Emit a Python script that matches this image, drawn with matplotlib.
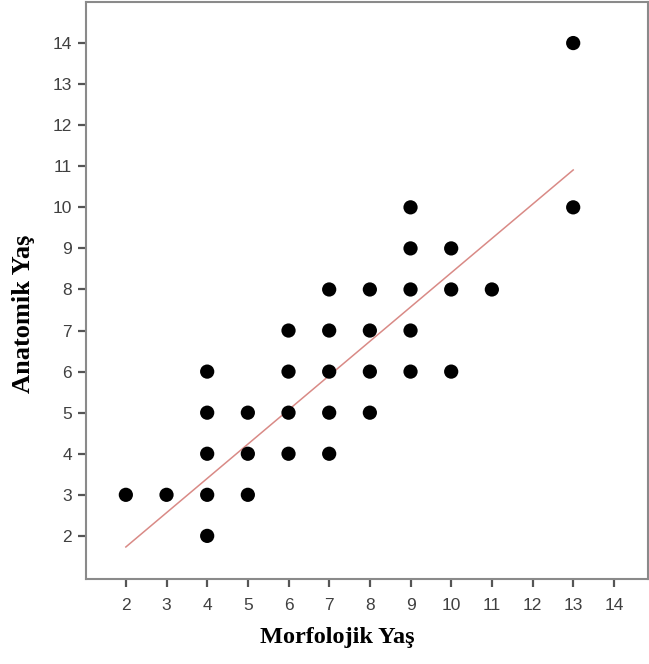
import matplotlib
matplotlib.use('Agg')
import matplotlib.pyplot as plt
import numpy as np

# Morfolojik yas (x) and anatomik yas (y) pairs
morf = [2, 3, 4, 4, 4, 4, 4, 5, 5, 5, 6, 6, 6, 6, 7, 7, 7, 7, 7,
        8, 8, 8, 8, 9, 9, 9, 9, 9, 10, 10, 10, 11, 13, 13]
anat = [3, 3, 2, 3, 4, 5, 6, 3, 4, 5, 4, 5, 6, 7, 4, 5, 6, 7, 8,
        5, 6, 7, 8, 6, 7, 8, 9, 10, 6, 8, 9, 8, 10, 14]
fit_x = [2, 13]        # fit line ends
fit_y = [1.73, 10.91]
ticks = list(range(2, 15))

fig = plt.figure(figsize=(6.49, 6.64), dpi=100)
ax = fig.add_axes([0.1325, 0.128, 0.866, 0.869])

ax.plot(fit_x, fit_y, color='#d98a86', linewidth=1.1, zorder=2)
ax.scatter(morf, anat, s=105, color='black', edgecolors='none', zorder=3)

ax.set_xlim(1.02, 14.84)
ax.set_ylim(0.95, 15.0)
ax.set_xticks(ticks)
ax.set_yticks(ticks)
ax.set_xticklabels([str(t) for t in ticks], family='Liberation Sans')
ax.set_yticklabels([str(t) for t in ticks], family='Liberation Sans')
ax.tick_params(axis='both', colors='#555555', labelcolor='#404040', labelsize=12.5,
               length=6, width=1.6, direction='out')
ax.tick_params(axis='x', pad=8)
ax.tick_params(axis='y', pad=4)
for s in ax.spines.values():
    s.set_color('#8a8a8a')
    s.set_linewidth(1.5)

ax.set_xlabel('Morfolojik Yaş', family='Liberation Serif', fontweight='bold', fontsize=17.5)
ax.set_ylabel('Anatomik Yaş', family='Liberation Serif', fontweight='bold', fontsize=19)
ax.xaxis.set_label_coords(0.4475, -0.083)
ax.yaxis.set_label_coords(-0.091, 0.459)

fig.savefig('out.png', dpi=100)
